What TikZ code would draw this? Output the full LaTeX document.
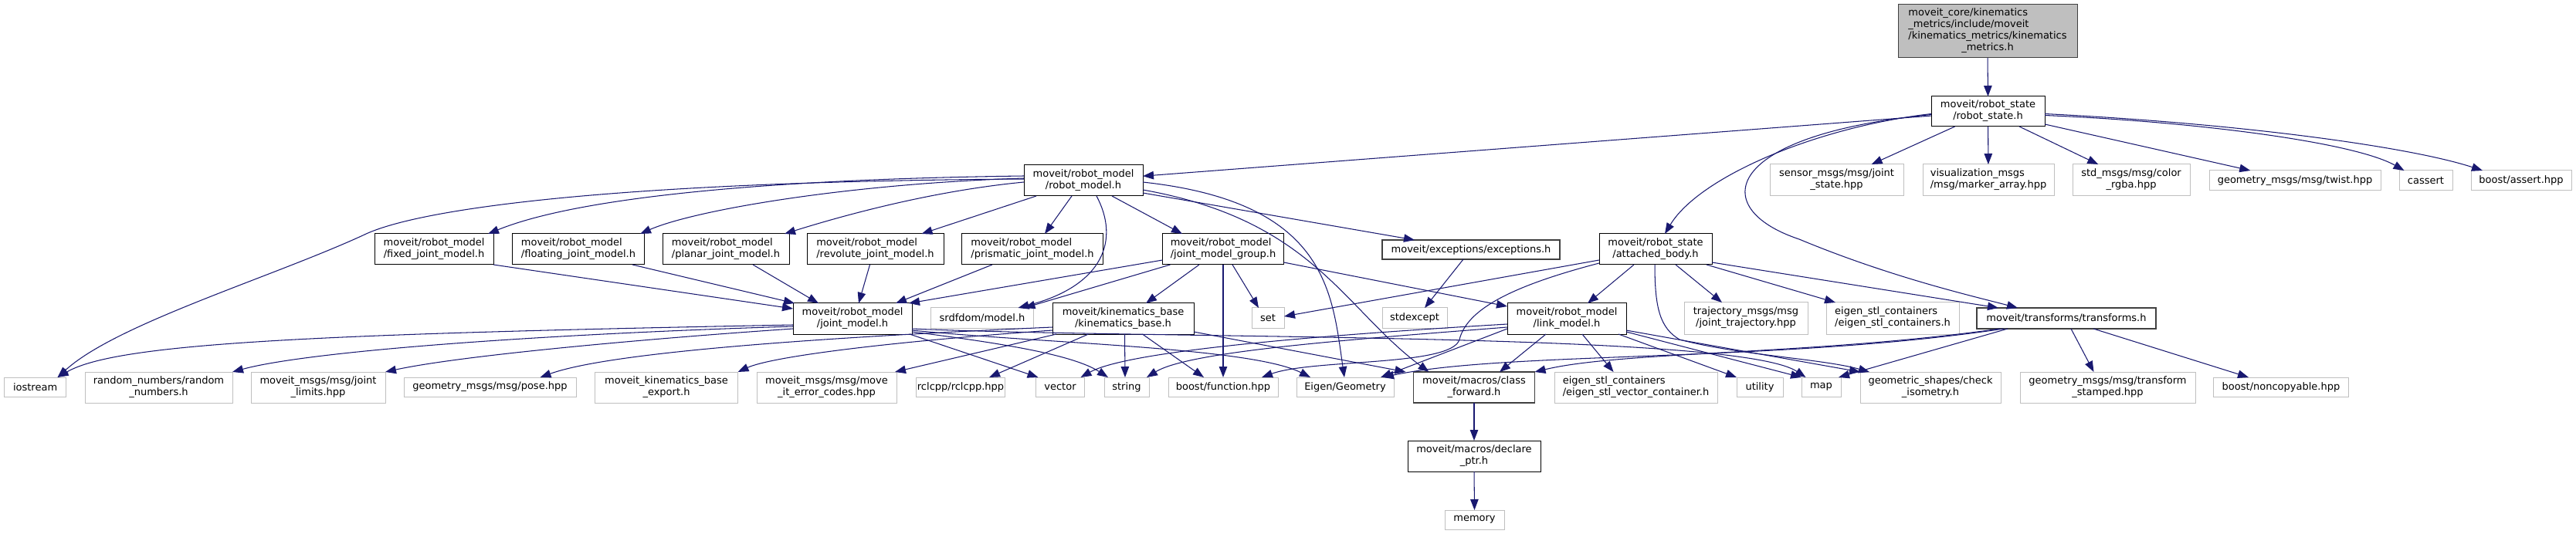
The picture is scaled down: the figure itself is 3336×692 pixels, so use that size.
\documentclass[tikz,border=0pt]{standalone}
\usepackage{fontspec}
\setmainfont{DejaVu Sans}
\usetikzlibrary{arrows.meta,calc}
\definecolor{edgeblue}{HTML}{191970}
\definecolor{greyb}{HTML}{BFBFBF}
\definecolor{greyd}{HTML}{404040}
\newcommand\lblfont{\fontsize{13pt}{15pt}\selectfont}
\newcommand\two[2]{\begin{tabular}{@{}l@{}}#1\\\multicolumn{1}{@{}c@{}}{#2}\end{tabular}}
\tikzset{
  nb/.style={rectangle, inner sep=0pt, outer sep=0pt, fill=white, font=\lblfont, line width=1pt},
  doc/.style={nb, draw=black},
  docg/.style={nb, draw=greyd, line width=1.6pt},
  ext/.style={nb, draw=greyb},
  topn/.style={nb, draw=greyd, fill=greyb},
  dep/.style={draw=edgeblue, line width=1.05pt, -{Triangle[length=14pt,width=10.5pt]}},
  sz/.style 2 args={minimum width=#1pt, minimum height=#2pt},
}
\begin{document}
\begin{tikzpicture}[x=1pt,y=-1pt]
\useasboundingbox (0,0) rectangle (3336,692);
% ---------- nodes ----------
\node[topn, sz={232}{69}] (top) at (2574,40.5) {\two{moveit\_core/kinematics\\\_metrics/include/moveit\\/kinematics\_metrics/kinematics}{\_metrics.h}};
\node[doc, sz={147}{39}] (rs) at (2574.5,144.5) {\two{moveit/robot\_state}{/robot\_state.h}};
\node[doc, sz={154}{40}] (rm) at (1403,234) {\two{moveit/robot\_model}{/robot\_model.h}};
\node[ext, sz={173}{41}] (ss) at (2378.5,233.5) {\two{sensor\_msgs/msg/joint}{\_state.hpp}};
\node[ext, sz={170}{41}] (vis) at (2575,233.5) {\two{visualization\_msgs}{/msg/marker\_array.hpp}};
\node[ext, sz={152}{41}] (color) at (2760,233.5) {\two{std\_msgs/msg/color}{\_rgba.hpp}};
\node[ext, sz={222}{26}] (twist) at (2972,234) {geometry\_msgs/msg/twist.hpp};
\node[ext, sz={69}{26}] (cassert) at (3141.5,234) {cassert};
\node[ext, sz={130}{26}] (bassert) at (3265,234) {boost/assert.hpp};
% row 3
\node[doc, sz={154}{40}] (fixed) at (562,323) {\two{moveit/robot\_model}{/fixed\_joint\_model.h}};
\node[doc, sz={171}{40}] (floating) at (749,323) {\two{moveit/robot\_model}{/floating\_joint\_model.h}};
\node[doc, sz={164}{40}] (planar) at (940,323) {\two{moveit/robot\_model}{/planar\_joint\_model.h}};
\node[doc, sz={177}{40}] (revolute) at (1133.5,323) {\two{moveit/robot\_model}{/revolute\_joint\_model.h}};
\node[doc, sz={183}{40}] (prismatic) at (1337,323) {\two{moveit/robot\_model}{/prismatic\_joint\_model.h}};
\node[doc, sz={157}{40}] (jmg) at (1584,323) {\two{moveit/robot\_model}{/joint\_model\_group.h}};
\node[docg, sz={230}{25}] (exc) at (1905,323.5) {moveit/exceptions/exceptions.h};
\node[doc, sz={146}{40}] (att) at (2144,323) {\two{moveit/robot\_state}{/attached\_body.h}};
% row 4
\node[doc, sz={154}{40}] (jm) at (1104,413) {\two{moveit/robot\_model}{/joint\_model.h}};
\node[ext, sz={133}{26}] (srdf) at (1272,412) {srdfdom/model.h};
\node[doc, sz={183}{40}] (kb) at (1454.5,413) {\two{moveit/kinematics\_base}{/kinematics\_base.h}};
\node[ext, sz={42}{26}] (set) at (1642,412) {set};
\node[ext, sz={84}{26}] (stdexc) at (1832,412) {stdexcept};
\node[doc, sz={154}{40}] (lm) at (2029,413) {\two{moveit/robot\_model}{/link\_model.h}};
\node[ext, sz={160}{41}] (traj) at (2261,412.5) {\two{trajectory\_msgs/msg}{/joint\_trajectory.hpp}};
\node[ext, sz={172}{41}] (econt) at (2451,412.5) {\two{eigen\_stl\_containers}{/eigen\_stl\_containers.h}};
\node[docg, sz={232}{27}] (tf) at (2676,412.5) {moveit/transforms/transforms.h};
% row 5
\node[ext, sz={80}{25}] (io) at (45.6,501.5) {iostream};
\node[ext, sz={191}{40}] (rnd) at (205.5,502) {\two{random\_numbers/random}{\_numbers.h}};
\node[ext, sz={174}{40}] (jlim) at (412,502) {\two{moveit\_msgs/msg/joint}{\_limits.hpp}};
\node[ext, sz={223}{25}] (pose) at (634.5,501.5) {geometry\_msgs/msg/pose.hpp};
\node[ext, sz={185}{40}] (kbx) at (863,502) {\two{moveit\_kinematics\_base}{\_export.h}};
\node[ext, sz={181}{40}] (err) at (1070.5,502) {\two{moveit\_msgs/msg/move}{\_it\_error\_codes.hpp}};
\node[ext, sz={115}{25}] (rcl) at (1244,501.5) {rclcpp/rclcpp.hpp};
\node[ext, sz={63}{25}] (vec) at (1373,501.5) {vector};
\node[ext, sz={58}{25}] (str) at (1459,501.5) {string};
\node[ext, sz={142}{25}] (bfn) at (1584,501.5) {boost/function.hpp};
\node[ext, sz={126}{25}] (eig) at (1742,501.5) {Eigen/Geometry};
\node[docg, sz={157}{40}] (cf) at (1909,502) {\two{moveit/macros/class}{\_forward.h}};
\node[ext, sz={211}{40}] (evec) at (2118.5,502) {\two{eigen\_stl\_containers}{/eigen\_stl\_vector\_container.h}};
\node[ext, sz={60}{25}] (util) at (2279,501.5) {utility};
\node[ext, sz={51}{25}] (map) at (2358.5,501.5) {map};
\node[ext, sz={182}{40}] (ciso) at (2500,502) {\two{geometric\_shapes/check}{\_isometry.h}};
\node[ext, sz={227}{40}] (tfs) at (2729.5,502) {\two{geometry\_msgs/msg/transform}{\_stamped.hpp}};
\node[ext, sz={175}{25}] (nonc) at (2954,501.5) {boost/noncopyable.hpp};
% rows 6-7
\node[doc, sz={172}{40}] (decl) at (1909,591) {\two{moveit/macros/declare}{\_ptr.h}};
\node[ext, sz={77}{25}] (mem) at (1909.5,673.5) {memory};
% ---------- edges ----------
\draw[dep] (top.south) -- (rs.north);
\draw[dep] (rs) -- (rm);
\draw[dep] (rs) -- (ss);
\draw[dep] (rs) -- (vis);
\draw[dep] (rs) -- (color);
\draw[dep] (rs) -- (twist);
\draw[dep] ($(rs.east)+(0,5)$) .. controls (2850,158) and (3050,185) .. ($(cassert.north)+(-28,0)$);
\draw[dep] ($(rs.east)+(0,3)$) .. controls (2900,160) and (3120,190) .. ($(bassert.north)+(-50,0)$);
\draw[dep] ($(rs.west)+(0,3)$) .. controls (2350,165) and (2200,230) .. ($(att.north)+(12,0)$);
\draw[dep] ($(rs.west)+(0,4)$) .. controls (2230,175) and (2210,270) .. (2330,310) .. controls (2450,360) and (2560,385) .. ($(tf.north)+(-63,0)$);
% robot_model
\draw[dep] ($(rm.west)+(0,-2)$) .. controls (800,235) and (540,270) .. (470,305) .. controls (350,360) and (150,420) .. ($(io.north)+(29,0)$);
\draw[dep] ($(rm.west)+(0,-6)$) .. controls (1000,232) and (750,255) .. ($(fixed.north)+(70,0)$);
\draw[dep] ($(rm.west)+(0,-3)$) .. controls (1100,238) and (900,272) .. ($(floating.north)+(80,0)$);
\draw[dep] ($(rm.west)+(0,2)$) .. controls (1200,248) and (1080,283) .. ($(planar.north)+(76,0)$);
\draw[dep] ($(rm.south west)+(16,0)$) -- ($(revolute.north)+(60,0)$);
\draw[dep] ($(rm.south)+(-15,0)$) -- ($(prismatic.north)+(16,0)$);
\draw[dep] ($(rm.south)+(37,0)$) -- ($(jmg.north)+(-53,0)$);
\draw[dep] ($(rm.south)+(17,0)$) .. controls (1450,310) and (1430,370) .. ($(srdf.north east)+(-20,0)$);
\draw[dep] ($(rm.east)+(0,2)$) .. controls (1720,262) and (1725,380) .. ($(eig.north)+(-1,0)$);
\draw[dep] ($(rm.east)+(0,12)$) .. controls (1700,285) and (1740,400) .. ($(cf.north west)+(20,0)$);
\draw[dep] ($(rm.east)+(0,16)$) -- ($(exc.north)+(-73,0)$);
% joint subclasses
\draw[dep] (fixed.south east) -- ($(jm.west)+(0,-13)$);
\draw[dep] ($(floating.south)+(70,0)$) -- ($(jm.north west)+(2,0)$);
\draw[dep] ($(planar.south)+(35,0)$) -- ($(jm.north)+(-44,0)$);
\draw[dep] ($(revolute.south)+(-7,0)$) -- ($(jm.north)+(8,0)$);
\draw[dep] ($(prismatic.south)+(-52,0)$) -- ($(jm.north)+(56,0)$);
% joint_model_group
\draw[dep] ($(jmg.west)+(0,14)$) -- ($(jm.north east)+(-4,0)$);
\draw[dep] ($(jmg.south west)+(10,0)$) -- ($(srdf.north east)+(-12,0)$);
\draw[dep] ($(jmg.south)+(-31,0)$) -- ($(kb.north)+(29.5,0)$);
\draw[dep] (jmg.south) -- (bfn.north);
\draw[dep] ($(jmg.south)+(12,0)$) -- ($(set.north)+(-12,0)$);
\draw[dep] ($(jmg.east)+(0,17)$) -- ($(lm.north west)+(0,4)$);
% attached_body
\draw[dep] ($(att.west)+(0,14)$) -- ($(set.east)+(0,-2)$);
\draw[dep] ($(att.west)+(0,18)$) .. controls (1960,370) and (1900,400) .. (1890,440) .. controls (1880,475) and (1700,465) .. ($(bfn.north)+(50,0)$);
\draw[dep] ($(att.south)+(-28,0)$) -- ($(lm.north)+(27,0)$);
\draw[dep] ($(att.south)+(-1,0)$) .. controls (2143,400) and (2150,425) .. (2175,440) .. controls (2250,460) and (2360,465) .. ($(ciso.north west)+(12,0)$);
\draw[dep] ($(att.south)+(26,0)$) -- ($(traj.north)+(-31,0)$);
\draw[dep] ($(att.south)+(66,0)$) -- ($(econt.north)+(-74,0)$);
\draw[dep] ($(att.east)+(0,17)$) -- ($(tf.north)+(-88,0)$);
% joint_model
\draw[dep] ($(jm.west)+(0,8)$) .. controls (400,433) and (150,445) .. ($(io.north)+(29,0)$);
\draw[dep] ($(jm.west)+(0,10)$) .. controls (700,433) and (400,455) .. (rnd.north east);
\draw[dep] ($(jm.west)+(0,13)$) .. controls (850,438) and (600,460) .. (jlim.north east);
\draw[dep] ($(jm.south east)+(-3,0)$) -- ($(vec.north west)+(3,0)$);
\draw[dep] ($(jm.east)+(0,17)$) .. controls (1300,445) and (1390,460) .. ($(str.north west)+(5,0)$);
\draw[dep] ($(jm.east)+(0,15)$) .. controls (1350,445) and (1620,450) .. ($(eig.north)+(-45,0)$);
\draw[dep] ($(jm.east)+(0,13)$) .. controls (1500,440) and (2250,430) .. ($(map.north)+(-20,0)$);
% kinematics_base
\draw[dep] ($(kb.west)+(0,11)$) .. controls (1000,440) and (780,460) .. ($(pose.north)+(65,0)$);
\draw[dep] ($(kb.west)+(0,15)$) .. controls (1150,443) and (1000,462) .. (kbx.north east);
\draw[dep] ($(kb.south west)+(5,0)$) -- ($(err.north east)+(-2,0)$);
\draw[dep] ($(kb.south)+(-45,0)$) -- ($(rcl.north)+(37,0)$);
\draw[dep] ($(kb.south)+(2,0)$) -- ($(str.north)+(-2,0)$);
\draw[dep] ($(kb.south)+(25,0)$) -- ($(bfn.north)+(-25,0)$);
\draw[dep] ($(kb.east)+(0,17)$) -- ($(cf.north west)+(-10,0)$);
% exceptions
\draw[dep] ($(exc.south)+(-10,0)$) -- ($(stdexc.north)+(13,0)$);
% link_model
\draw[dep] ($(lm.west)+(0,11)$) .. controls (1750,440) and (1540,455) .. ($(str.north east)+(-3,0)$);
\draw[dep] ($(lm.west)+(0,7)$) .. controls (1700,435) and (1460,455) .. ($(vec.north east)+(-5,0)$);
\draw[dep] ($(lm.west)+(0,13)$) -- ($(eig.north east)+(-17,0)$);
\draw[dep] ($(lm.south)+(-27,0)$) -- ($(cf.north)+(33,0)$);
\draw[dep] ($(lm.south)+(20,0)$) -- ($(evec.north)+(-29,0)$);
\draw[dep] ($(lm.south east)+(-10,0)$) -- (util.north west);
\draw[dep] ($(lm.east)+(0,17)$) -- (map.north west);
\draw[dep] ($(lm.east)+(0,15)$) -- (ciso.north west);
% transforms
\draw[dep] ($(tf.south west)+(40,0)$) -- ($(map.north east)+(-3,0)$);
\draw[dep] ($(tf.south)+(6,0)$) -- ($(tfs.north)+(-18,0)$);
\draw[dep] ($(tf.south)+(35,0)$) -- ($(nonc.north)+(-42,0)$);
\draw[dep] ($(tf.south west)+(35,0)$) .. controls (2300,470) and (1950,455) .. ($(eig.north east)+(-14,0)$);
\draw[dep] ($(tf.south west)+(30,0)$) .. controls (2350,460) and (2100,455) .. (cf.north east);
% macros
\draw[dep] (cf.south) -- (decl.north);
\draw[dep] (decl.south) -- (mem.north);
\end{tikzpicture}
\end{document}
